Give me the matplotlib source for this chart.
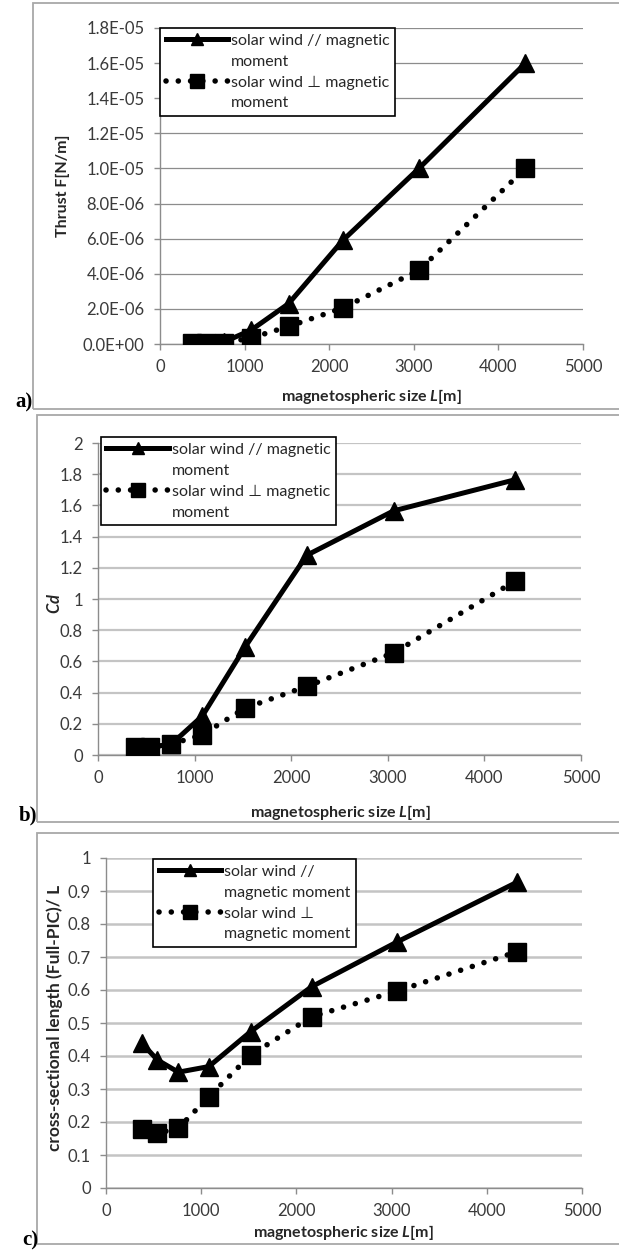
import matplotlib
matplotlib.use("Agg")
import matplotlib.pyplot as plt
from matplotlib.lines import Line2D
from matplotlib.patches import Rectangle

plt.rcParams["font.family"] = ["Lato", "DejaVu Sans"]
plt.rcParams["mathtext.fontset"] = "custom"
plt.rcParams["mathtext.it"] = "Lato:bold:italic"
plt.rcParams["mathtext.rm"] = "Lato:bold"

# data
size_L = [380, 540, 760, 1080, 1520, 2160, 3060, 4320]

thrust_par = [0.05e-6, 0.07e-6, 0.12e-6, 0.8e-6, 2.3e-6, 5.9e-6, 10.0e-6, 16.0e-6]
thrust_perp = [0.03e-6, 0.04e-6, 0.06e-6, 0.35e-6, 1.0e-6, 2.05e-6, 4.2e-6, 10.0e-6]

cd_par = [0.04, 0.05, 0.07, 0.25, 0.69, 1.28, 1.565, 1.765]
cd_perp = [0.05, 0.05, 0.07, 0.13, 0.30, 0.44, 0.655, 1.115]

cross_par = [0.438, 0.388, 0.351, 0.368, 0.474, 0.61, 0.746, 0.927]
cross_perp = [0.179, 0.166, 0.181, 0.277, 0.403, 0.519, 0.597, 0.716]

W, H = 619, 1255
fig = plt.figure(figsize=(W / 100, H / 100), dpi=100)

DOTS = (0, (0.01, 2.2))


def px_axes(left, right, top, bottom):
    return fig.add_axes([left / W, 1 - bottom / H, (right - left) / W, (bottom - top) / H])


def box(left, top, right, bottom):
    fig.add_artist(Rectangle((left / W, 1 - bottom / H), (right - left) / W, (bottom - top) / H,
                             transform=fig.transFigure, fill=False, edgecolor="#a8a8a8", lw=1.3))


def style(ax, ymax, ystep, fmt, gridc, gridw):
    ax.set_xlim(0, 5000)
    ax.set_ylim(0, ymax)
    ax.set_xticks(range(0, 5001, 1000))
    n = int(round(ymax / ystep))
    ticks = [i * ystep for i in range(n + 1)]
    ax.set_yticks(ticks)
    ax.set_yticklabels([fmt(t) for t in ticks])
    for s in ["top", "right"]:
        ax.spines[s].set_visible(False)
    for s in ["left", "bottom"]:
        ax.spines[s].set_color("#8c8c8c")
        ax.spines[s].set_linewidth(1.0)
    ax.tick_params(direction="out", length=4, width=1, color="#8c8c8c",
                   labelsize=12, labelcolor="#3a3a3a", pad=7)
    ax.grid(axis="y", color=gridc, lw=gridw)
    ax.set_axisbelow(True)


def plot_series(ax, par, perp):
    ax.plot(size_L, par, color="black", lw=3.6, marker="^", ms=12.5, zorder=3)
    ax.plot(size_L, perp, color="black", lw=4, linestyle=DOTS,
            dash_capstyle="round", marker="s", ms=13, zorder=3)


def add_legend(ax, labels, anchor):
    h_par = Line2D([], [], color="black", lw=3.6, marker="^", ms=9)
    h_perp = Line2D([], [], color="black", lw=4, linestyle=DOTS,
                    dash_capstyle="round", marker="s", ms=10)
    blank = Line2D([], [], linestyle="none")
    leg = ax.legend([h_par, blank, h_perp, blank], labels, loc="upper left",
                    bbox_to_anchor=anchor, borderaxespad=0, fancybox=False,
                    framealpha=1, edgecolor="black", fontsize=11.5, handlelength=3.9,
                    handletextpad=0.2, labelspacing=0.42, borderpad=0.35, numpoints=1)
    leg.get_frame().set_linewidth(1.2)
    for t in leg.get_texts():
        t.set_color("#262626")


def sci(v):
    return "{:.1E}".format(v)


def plain(v):
    return "{:g}".format(round(v, 2))


# panel a
box(33, 3, 622, 409)
ax1 = px_axes(160, 583, 28, 344)
plot_series(ax1, thrust_par, thrust_perp)
style(ax1, 1.8e-5, 2e-6, sci, "#8c8c8c", 0.9)
add_legend(ax1, ["solar wind // magnetic", "moment", "solar wind \u22a5 magnetic", "moment"], (0.0, 1.0))
fig.text(63 / W, 1 - 186 / H, "Thrust F[N/m]", rotation=90, ha="center", va="center",
         fontsize=11.5, fontweight="bold", color="#262626")
fig.text(371 / W, 1 - 397 / H, "magnetospheric size $L$[m]", ha="center", va="center",
         fontsize=11.5, fontweight="bold", color="#262626")
fig.text(33 / W, 1 - 402 / H, "a)", ha="right", va="center", fontsize=15,
         fontweight="bold", family="Liberation Serif")

# panel b
box(37, 415, 622, 822)
ax2 = px_axes(98, 581, 443, 755)
plot_series(ax2, cd_par, cd_perp)
style(ax2, 2, 0.2, plain, "#c4c4c4", 1.6)
add_legend(ax2, ["solar wind // magnetic", "moment", "solar wind \u22a5 magnetic", "moment"], (0.006, 1.019))
fig.text(55 / W, 1 - 603 / H, "$Cd$", rotation=90, ha="center", va="center",
         fontsize=12, color="#262626")
fig.text(340 / W, 1 - 812 / H, "magnetospheric size $L$[m]", ha="center", va="center",
         fontsize=11.5, fontweight="bold", color="#262626")
fig.text(37 / W, 1 - 815 / H, "b)", ha="right", va="center", fontsize=15,
         fontweight="bold", family="Liberation Serif")

# panel c
box(37, 833, 622, 1244)
ax3 = px_axes(106, 582, 858, 1188)
plot_series(ax3, cross_par, cross_perp)
style(ax3, 1, 0.1, plain, "#c4c4c4", 1.8)
add_legend(ax3, ["solar wind //", "magnetic moment", "solar wind \u22a5", "magnetic moment"], (0.099, 0.997))
fig.text(55 / W, 1 - 1018 / H, "cross-sectional length (Full-PIC)/ L", rotation=90, ha="center",
         va="center", fontsize=12.5, fontweight="bold", color="#262626")
fig.text(343 / W, 1 - 1233 / H, "magnetospheric size $L$[m]", ha="center", va="center",
         fontsize=11.5, fontweight="bold", color="#262626")
fig.text(38 / W, 1 - 1240 / H, "c)", ha="right", va="center", fontsize=15,
         fontweight="bold", family="Liberation Serif")

fig.savefig("out.png", dpi=100)
